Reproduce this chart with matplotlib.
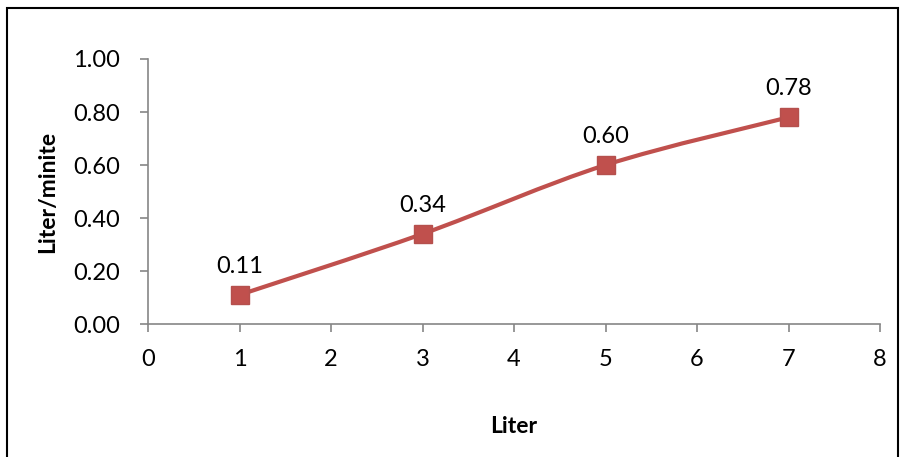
import numpy as np
import matplotlib.pyplot as plt
from matplotlib.path import Path
from matplotlib.patches import PathPatch, Rectangle

plt.rcParams['font.family'] = ['Lato', 'DejaVu Sans']

liters = [1, 3, 5, 7]
rates = [0.11, 0.34, 0.60, 0.78]
labels = ['0.11', '0.34', '0.60', '0.78']
xticks = [0, 1, 2, 3, 4, 5, 6, 7, 8]
yticks = [0.0, 0.2, 0.4, 0.6, 0.8, 1.0]

red = '#C0504D'

fig = plt.figure(figsize=(9.01, 4.57), dpi=100)
ax = fig.add_axes([0.1643, 0.291, 0.8124, 0.5799])

# smoothed line like excel (bezier through the points)
x = np.array(liters, dtype=float)
y = np.array(rates, dtype=float)
verts = [(x[0], y[0])]
codes = [Path.MOVETO]
for i in range(len(x) - 1):
    xp, yp = (x[i - 1], y[i - 1]) if i > 0 else (x[i], y[i])
    xn, yn = (x[i + 2], y[i + 2]) if i + 2 < len(x) else (x[i + 1], y[i + 1])
    c1 = (x[i] + (x[i + 1] - xp) / 6, y[i] + (y[i + 1] - yp) / 6)
    c2 = (x[i + 1] - (xn - x[i]) / 6, y[i + 1] - (yn - y[i]) / 6)
    verts += [c1, c2, (x[i + 1], y[i + 1])]
    codes += [Path.CURVE4] * 3
ax.add_patch(PathPatch(Path(verts, codes), facecolor='none', edgecolor=red, lw=3, zorder=2))
ax.plot(liters, rates, linestyle='none', marker='s', markersize=13.5,
        markerfacecolor=red, markeredgecolor='#B5504D', zorder=3)

for xi, yi, t in zip(liters, rates, labels):
    ax.annotate(t, (xi, yi), xytext=(0, 13), textcoords='offset points',
                ha='center', va='bottom', fontsize=17)

ax.set_xlim(0, 8)
ax.set_ylim(0, 1.0)
ax.set_xticks(xticks)
ax.set_yticks(yticks)
ax.set_yticklabels([f'{v:.2f}' for v in yticks])
ax.tick_params(labelsize=17, color='#868686', length=6, width=1.2, direction='out')
ax.tick_params(axis='x', pad=12)
ax.tick_params(axis='y', pad=14)
for s in ['top', 'right']:
    ax.spines[s].set_visible(False)
for s in ['left', 'bottom']:
    ax.spines[s].set_color('#868686')
    ax.spines[s].set_linewidth(1.2)

ax.set_xlabel('Liter', fontsize=16.5, fontweight='bold', labelpad=33)
ax.set_ylabel('Liter/minite', fontsize=16.5, fontweight='bold', labelpad=11)

fig.patches.append(Rectangle((7 / 901, -0.1), 891 / 901, 1.1 - 8 / 457, transform=fig.transFigure,
                             fill=False, edgecolor='black', lw=1.5))

fig.savefig('out.png', dpi=100)
